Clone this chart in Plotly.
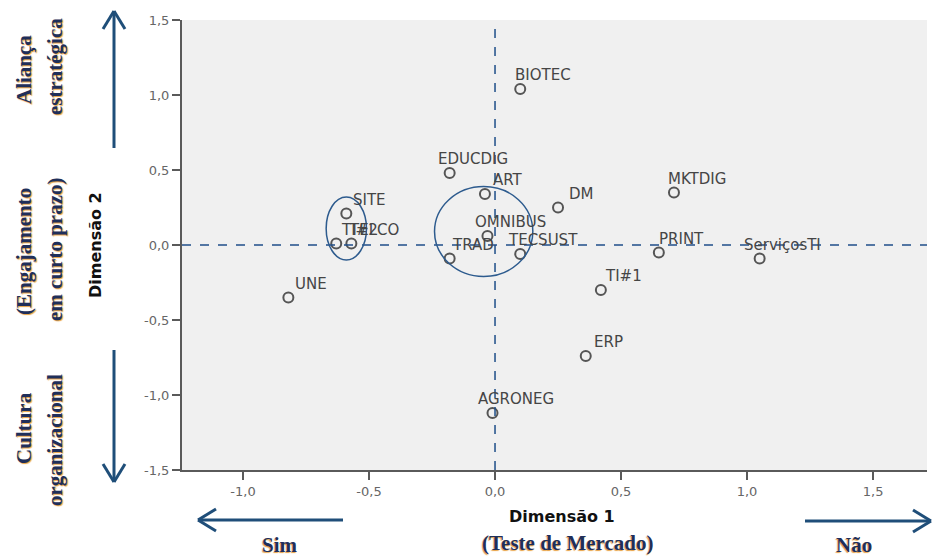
import plotly.graph_objects as go

# Category points on the two dimensions
labels = ["BIOTEC", "EDUCDIG", "ART", "DM", "MKTDIG", "OMNIBUS", "TRAD", "TECSUST",
          "PRINT", "ServiçosTI", "TI#1", "ERP", "AGRONEG", "UNE", "SITE", "TI#2", "TELCO"]
dim1 = [0.10, -0.18, -0.04, 0.25, 0.71, -0.03, -0.18, 0.10,
        0.65, 1.05, 0.42, 0.36, -0.01, -0.82, -0.59, -0.63, -0.57]
dim2 = [1.04, 0.48, 0.34, 0.25, 0.35, 0.06, -0.09, -0.06,
        -0.05, -0.09, -0.30, -0.74, -1.12, -0.35, 0.21, 0.01, 0.01]

x_ticks = [-1.0, -0.5, 0.0, 0.5, 1.0, 1.5]
x_ticktext = ["-1,0", "-0,5", "0,0", "0,5", "1,0", "1,5"]
y_ticks = [-1.5, -1.0, -0.5, 0.0, 0.5, 1.0, 1.5]
y_ticktext = ["-1,5", "-1,0", "-0,5", "0,0", "0,5", "1,0", "1,5"]

W, H = 934, 559
ML, MR, MT, MB = 182, 7, 20, 89
X_RANGE = [-1.242, 1.714]
Y_RANGE = [-1.5, 1.5]

NAVY = "#1f4e79"
DASH = "#1f4e89"


def px(x):
    return (x - ML) / (W - ML - MR)


def py(y):
    return (H - MB - y) / (H - MT - MB)


fig = go.Figure()

fig.add_trace(go.Scatter(
    x=dim1, y=dim2, mode="markers",
    marker=dict(symbol="circle-open", size=10, color="#555555", line=dict(width=2, color="#555555")),
    hoverinfo="text", text=labels, showlegend=False,
))

annotations = []
for lab, xv, yv in zip(labels, dim1, dim2):
    annotations.append(dict(
        x=xv, y=yv, xref="x", yref="y", text=lab, showarrow=False,
        xshift=23, yshift=14,
        font=dict(family="DejaVu Sans", size=15, color="#454545"),
    ))

shapes = [
    # reference lines through the origin
    dict(type="line", xref="x", yref="paper", x0=0, x1=0, y0=0, y1=1,
         line=dict(color=DASH, width=1.5, dash="dash")),
    dict(type="line", xref="paper", yref="y", x0=0, x1=1, y0=0, y1=0,
         line=dict(color=DASH, width=1.5, dash="dash")),
    # highlighted groups
    dict(type="circle", xref="x", yref="y", x0=-0.67, x1=-0.51, y0=-0.10, y1=0.32,
         line=dict(color="#2d5b8e", width=1.5)),
    dict(type="circle", xref="x", yref="y", x0=-0.24, x1=0.15, y0=-0.21, y1=0.39,
         line=dict(color="#2d5b8e", width=1.5)),
]


def arrow(x0, y0, x1, y1, a1, a2):
    # shaft from (x0,y0) to tip (x1,y1), open head with arms a1 and a2 (pixel coords)
    out = [dict(type="line", xref="paper", yref="paper", x0=px(x0), y0=py(y0), x1=px(x1), y1=py(y1),
                line=dict(color=NAVY, width=3))]
    for ax, ay in (a1, a2):
        out.append(dict(type="line", xref="paper", yref="paper", x0=px(ax), y0=py(ay),
                        x1=px(x1), y1=py(y1), line=dict(color=NAVY, width=3)))
    return out


shapes += arrow(114, 148, 114, 11, (103, 29), (125, 29))
shapes += arrow(114, 350, 114, 482, (103, 464), (125, 464))
shapes += arrow(343, 520, 198, 520, (216, 509), (216, 531))
shapes += arrow(805, 521, 931, 521, (913, 510), (913, 532))

serif = dict(family="Liberation Serif", size=21, color="#1f2f5a",
             weight="bold", shadow="-1px 1px 1px #e8a040")


def side_text(text, x, y, angle=-90, font=None, size=None):
    f = dict(font or serif)
    if size:
        f["size"] = size
    annotations.append(dict(x=px(x), y=py(y), xref="paper", yref="paper", text=text,
                            showarrow=False, textangle=angle, font=f,
                            xanchor="center", yanchor="middle"))


side_text("Aliança", 24, 70)
side_text("estratégica", 55, 67)
side_text("(Engajamento", 24, 252)
side_text("em curto prazo)", 55, 250)
side_text("Cultura", 24, 428)
side_text("organizacional", 55, 440)

side_text("Sim", 280, 545, angle=0)
side_text("(Teste de Mercado)", 567, 543, angle=0)
side_text("Não", 854, 545, angle=0)

title_font = dict(family="DejaVu Sans", size=16, color="#111111", weight="bold")
side_text("Dimensão 2", 95, 245, font=title_font)
side_text("Dimensão 1", 562, 516, angle=0, font=title_font)

axis_common = dict(
    showgrid=False, zeroline=False, showline=True, linecolor="#5a5a5a", linewidth=2,
    ticks="outside", ticklen=8, tickwidth=2, tickcolor="#5a5a5a",
    tickfont=dict(family="DejaVu Sans", size=13, color="#666666"),
)

fig.update_layout(
    width=W, height=H,
    margin=dict(l=ML, r=MR, t=MT, b=MB),
    paper_bgcolor="white", plot_bgcolor="#f0f0f0",
    xaxis=dict(range=X_RANGE, tickvals=x_ticks, ticktext=x_ticktext, **axis_common),
    yaxis=dict(range=Y_RANGE, tickvals=y_ticks, ticktext=y_ticktext, **axis_common),
    shapes=shapes, annotations=annotations,
)

fig.write_html("out.html")
